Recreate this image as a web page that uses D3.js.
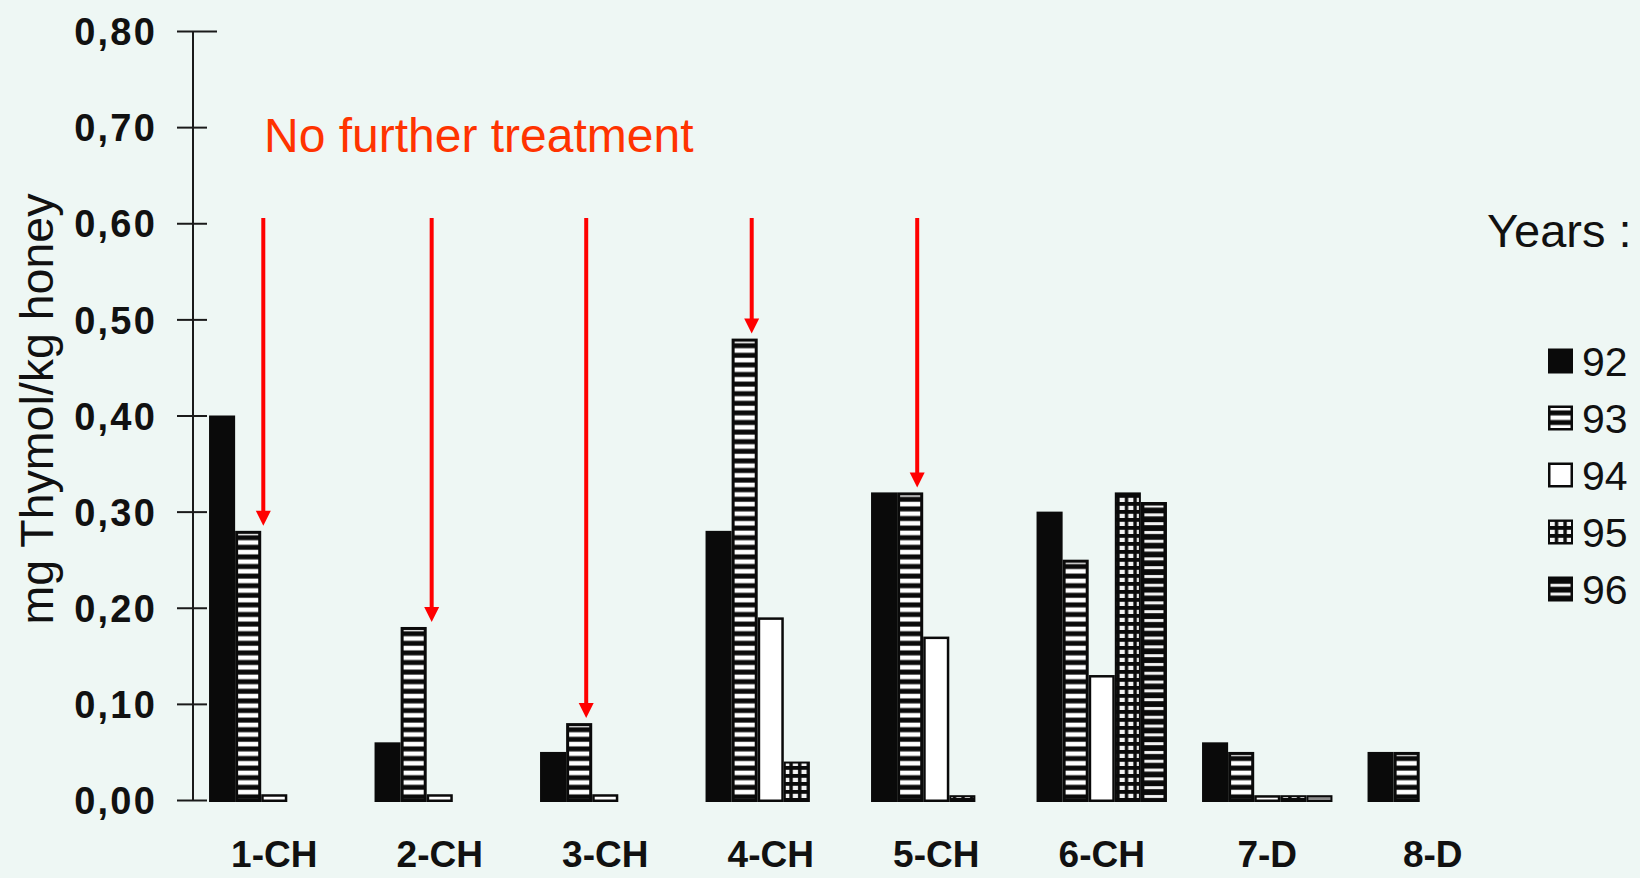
<!DOCTYPE html>
<html>
<head>
<meta charset="utf-8">
<script src="https://cdn.jsdelivr.net/npm/d3@7"></script>
<style>
  html, body { margin: 0; padding: 0; background: #eef7f4; }
  svg { display: block; }
  text { font-family: "Liberation Sans", Arial, sans-serif; }
</style>
</head>
<body>
<svg id="chart" width="1640" height="878"></svg>
<script>
// ---- data ----
const categories = ["1-CH", "2-CH", "3-CH", "4-CH", "5-CH", "6-CH", "7-D", "8-D"];
const years = ["92", "93", "94", "95", "96"];
const values92 = [0.40, 0.06, 0.05, 0.28, 0.32, 0.30, 0.06, 0.05];
const values93 = [0.28, 0.18, 0.08, 0.48, 0.32, 0.25, 0.05, 0.05];
const values94 = [0.006, 0.006, 0.006, 0.19, 0.17, 0.13, 0.005, null];
const values95 = [null, null, null, 0.04, 0.005, 0.32, 0.005, null];
const values96 = [null, null, null, null, null, 0.31, 0.005, null];
const yTickValues = [0, 0.1, 0.2, 0.3, 0.4, 0.5, 0.6, 0.7, 0.8];
const yTickLabels = ["0,00", "0,10", "0,20", "0,30", "0,40", "0,50", "0,60", "0,70", "0,80"];
const arrowCategories = ["1-CH", "2-CH", "3-CH", "4-CH", "5-CH"];
const arrowOffsets = [1.08, 1.19, 0.77, 0.77, 0.77]; // position across the 93 bar, in bar widths
const annotationText = "No further treatment";
const yAxisTitle = "mg Thymol/kg honey";
const legendTitle = "Years :";

const seriesByYear = { "92": values92, "93": values93, "94": values94, "95": values95, "96": values96 };

// ---- setup ----
const svg = d3.select("#chart");
svg.append("rect").attr("width", 1640).attr("height", 878).attr("fill", "#eef7f4");

const defs = svg.append("defs");
const p93 = defs.append("pattern").attr("id", "stripe93").attr("patternUnits", "userSpaceOnUse")
  .attr("width", 10).attr("height", 9.6);
p93.append("rect").attr("width", 10).attr("height", 9.6).attr("fill", "#0a0a0a");
p93.append("rect").attr("y", 2.6).attr("width", 10).attr("height", 4.6).attr("fill", "#ffffff");

const p96 = defs.append("pattern").attr("id", "stripe96").attr("patternUnits", "userSpaceOnUse")
  .attr("width", 10).attr("height", 8.8);
p96.append("rect").attr("width", 10).attr("height", 8.8).attr("fill", "#0a0a0a");
p96.append("rect").attr("y", 3).attr("width", 10).attr("height", 3).attr("fill", "#f4f4f4");

const p95 = defs.append("pattern").attr("id", "grid95").attr("patternUnits", "userSpaceOnUse")
  .attr("width", 8.6).attr("height", 8);
p95.append("rect").attr("width", 8.6).attr("height", 8).attr("fill", "#0a0a0a");
p95.append("rect").attr("x", 1.6).attr("y", 1.8).attr("width", 5.2).attr("height", 4.2).attr("fill", "#f2f2f2");

const x = d3.scaleBand().domain(categories).range([191.5, 1515.5])
  .paddingInner(0.212).paddingOuter(0.106);
const xYear = d3.scaleBand().domain(years).range([0, x.bandwidth()]).padding(0);
const y = d3.scaleLinear().domain([0, 0.8]).range([800, 31]);

// ---- bars ----
const barData = [];
categories.forEach((c, i) => {
  years.forEach(yr => {
    const v = seriesByYear[yr][i];
    if (v !== null && v !== undefined) barData.push({ cat: c, year: yr, value: v });
  });
});

const insetByYear = { "92": 0, "93": 3, "94": 2.5, "95": 2, "96": 3.5 };
const fillByYear = { "92": "#0a0a0a", "93": "url(#stripe93)", "94": "#ffffff", "95": "url(#grid95)", "96": "url(#stripe96)" };

const barG = svg.append("g");
const bars = barG.selectAll("g.bar").data(barData).enter().append("g").attr("class", "bar");
bars.append("rect")
  .attr("x", d => x(d.cat) + xYear(d.year))
  .attr("y", d => y(d.value))
  .attr("width", xYear.bandwidth())
  .attr("height", d => y(0) - y(d.value) + 2)
  .attr("fill", "#0a0a0a");
bars.filter(d => insetByYear[d.year] > 0 && (y(0) - y(d.value) + 2) > 2 * insetByYear[d.year] + 1)
  .append("rect")
  .attr("x", d => x(d.cat) + xYear(d.year) + insetByYear[d.year])
  .attr("y", d => y(d.value) + insetByYear[d.year])
  .attr("width", d => xYear.bandwidth() - 2 * insetByYear[d.year])
  .attr("height", d => y(0) - y(d.value) + 2 - 2 * insetByYear[d.year])
  .attr("fill", d => fillByYear[d.year]);
// tiny bars look grey
bars.filter(d => (y(0) - y(d.value) + 2) <= 2 * insetByYear[d.year] + 1 && d.year !== "92")
  .append("rect")
  .attr("x", d => x(d.cat) + xYear(d.year) + 2)
  .attr("y", d => y(d.value) + 2)
  .attr("width", xYear.bandwidth() - 4)
  .attr("height", d => Math.max(1, y(0) - y(d.value) - 2))
  .attr("fill", "#8a8a8a");

// ---- y axis ----
const yAxis = d3.axisLeft(y).tickValues(yTickValues)
  .tickFormat((d, i) => yTickLabels[i]).tickSizeOuter(0);
const gy = svg.append("g").attr("transform", "translate(193,0)").call(yAxis);
gy.select(".domain").attr("stroke", "#1a1a1a").attr("stroke-width", 2)
  .attr("d", `M0,${y(0.8)}V${y(0)}`);
gy.selectAll(".tick line").attr("x1", -16).attr("x2", (d) => d === 0.8 ? 24 : 14)
  .attr("stroke", "#1a1a1a").attr("stroke-width", 2);
gy.selectAll(".tick text").attr("x", -36).attr("dy", "0.36em")
  .attr("fill", "#111").attr("font-size", 38).attr("font-weight", "bold")
  .attr("letter-spacing", 2.2)
  .attr("font-family", "'Liberation Sans', Arial, sans-serif");

// ---- x labels ----
svg.append("g").selectAll("text").data(categories).enter().append("text")
  .attr("x", d => x(d) + x.bandwidth() / 2)
  .attr("y", 867)
  .attr("text-anchor", "middle")
  .attr("font-size", 37).attr("font-weight", "bold").attr("fill", "#111")
  .text(d => d);

// ---- y axis title ----
svg.append("text")
  .attr("transform", "translate(53,409) rotate(-90)")
  .attr("text-anchor", "middle")
  .attr("font-size", 46.5).attr("fill", "#111")
  .text(yAxisTitle);

// ---- annotation ----
svg.append("text").attr("x", 264).attr("y", 152)
  .attr("font-size", 48).attr("fill", "#ff3300")
  .text(annotationText);

const arrowG = svg.append("g");
arrowCategories.forEach((c, i) => {
  const idx = categories.indexOf(c);
  const ax = x(c) + xYear("93") + arrowOffsets[i] * xYear.bandwidth();
  const tipY = y(values93[idx]) - 5;
  const topY = 218;
  arrowG.append("line").attr("x1", ax).attr("x2", ax).attr("y1", topY).attr("y2", tipY - 12)
    .attr("stroke", "#ff0000").attr("stroke-width", 4);
  arrowG.append("path")
    .attr("d", `M${ax - 7.5},${tipY - 15}L${ax + 7.5},${tipY - 15}L${ax},${tipY}Z`)
    .attr("fill", "#ff0000");
});

// ---- legend ----
svg.append("text").attr("x", 1487).attr("y", 247)
  .attr("font-size", 47).attr("fill", "#111").text(legendTitle);

const ly = d3.scalePoint().domain(years).range([361, 589]);
const lg = svg.append("g").selectAll("g").data(years).enter().append("g");
lg.append("rect").attr("x", 1548).attr("y", d => ly(d) - 12.5)
  .attr("width", 25).attr("height", 25).attr("fill", "#0a0a0a");
lg.filter(d => insetByYear[d] > 0).append("rect")
  .attr("x", d => 1548 + Math.min(insetByYear[d], 2.5))
  .attr("y", d => ly(d) - 12.5 + Math.min(insetByYear[d], 2.5))
  .attr("width", d => 25 - 2 * Math.min(insetByYear[d], 2.5))
  .attr("height", d => 25 - 2 * Math.min(insetByYear[d], 2.5))
  .attr("fill", d => fillByYear[d]);
lg.append("text").attr("x", 1582).attr("y", d => ly(d)).attr("dy", "0.36em")
  .attr("font-size", 41).attr("fill", "#111").text(d => d);
</script>
</body>
</html>
